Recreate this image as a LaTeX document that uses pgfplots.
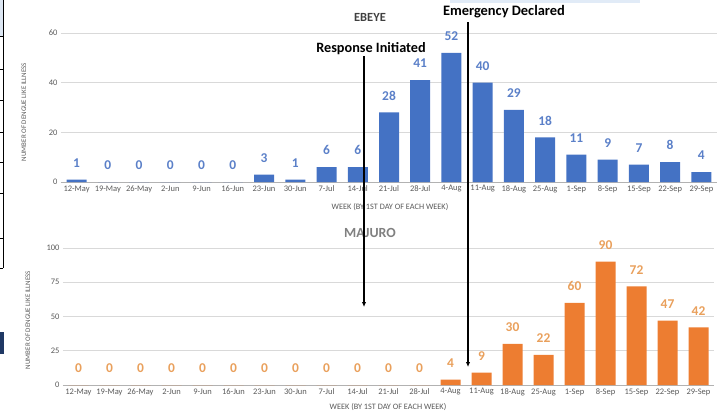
\documentclass[border=0pt]{standalone}
\usepackage{pgfplots}
\pgfplotsset{compat=1.18}
\usepackage{fontspec}
\setmainfont{Carlito}
\usetikzlibrary{arrows.meta}

\definecolor{barblue}{HTML}{4472C4}
\definecolor{lblblue}{HTML}{5B80C8}
\definecolor{barorange}{HTML}{ED7D31}
\definecolor{lblorange}{HTML}{E9A05C}
\definecolor{tickgray}{HTML}{595959}
\definecolor{gridgray}{HTML}{D9D9D9}

\pgfplotsset{
  weekchart/.style={
    ybar, bar width=20bp,
    scale only axis, anchor=south west,
    xmin=-0.5, xmax=20.5,
    xtick={0,...,20},
    xticklabels={12-May,19-May,26-May,2-Jun,9-Jun,16-Jun,23-Jun,30-Jun,7-Jul,14-Jul,21-Jul,28-Jul,4-Aug,11-Aug,18-Aug,25-Aug,1-Sep,8-Sep,15-Sep,22-Sep,29-Sep},
    ymin=0,
    axis x line*=bottom, axis y line*=left,
    y axis line style={draw=none},
    x axis line style={draw=gray!60, -},
    major tick length=0pt,
    ymajorgrids, grid style={gridgray, line width=0.8bp},
    tick label style={font=\fontsize{8.5}{8.5}\selectfont, text=tickgray},
    /pgf/number format/assume math mode=true,
    nodes near coords,
    every node near coord/.append style={font=\bfseries\fontsize{13.5}{13.5}\selectfont, inner sep=0pt, yshift=12bp},
  }
}

\begin{document}
\begin{tikzpicture}
\useasboundingbox (0,0) rectangle (725bp,-415bp);

% cropped table edge at the left
\fill[fill={rgb,255:red,220;green,230;blue,242}] (0,0) rectangle (3bp,-36bp);
\draw[line width=0.8bp] (3bp,0) -- (3bp,-268bp);
\foreach \yy in {36,69,100,132,162,193,238,268}
  \draw[line width=0.8bp] (0,-\yy bp) -- (3bp,-\yy bp);
\fill[fill={rgb,255:red,31;green,56;blue,100}] (0,-332bp) rectangle (4bp,-354bp);
\fill[fill={rgb,255:red,225;green,235;blue,247}] (450bp,0) rectangle (640bp,-3bp);

% EBEYE
\begin{axis}[weekchart,
  at={(61bp,-182bp)}, width=656bp, height=149bp,
  ymax=60, ytick={0,20,40,60},
  every node near coord/.append style={text=lblblue},
]
\addplot[fill=barblue, draw=none] coordinates {
  (0,1)(1,0)(2,0)(3,0)(4,0)(5,0)(6,3)(7,1)(8,6)(9,6)(10,28)
  (11,41)(12,52)(13,40)(14,29)(15,18)(16,11)(17,9)(18,7)(19,8)(20,4)};
\end{axis}

% MAJURO
\begin{axis}[weekchart,
  at={(63bp,-385bp)}, width=651bp, height=137bp,
  ymax=100, ytick={0,25,50,75,100},
  every node near coord/.append style={text=lblorange},
]
\addplot[fill=barorange, draw=none] coordinates {
  (0,0)(1,0)(2,0)(3,0)(4,0)(5,0)(6,0)(7,0)(8,0)(9,0)(10,0)
  (11,0)(12,4)(13,9)(14,30)(15,22)(16,60)(17,90)(18,72)(19,47)(20,42)};
\end{axis}

% titles and axis labels
\node[font=\bfseries\fontsize{12.5}{12.5}\selectfont, text={rgb,255:red,64;green,64;blue,64}] at (370bp,-17bp) {EBEYE};
\node[font=\bfseries\fontsize{14}{14}\selectfont, text=gray] at (370bp,-233bp) {MAJURO};
\node[font=\fontsize{8.3}{8.3}\selectfont, text=tickgray] at (390bp,-207bp) {WEEK (BY 1ST DAY OF EACH WEEK)};
\node[font=\fontsize{8.3}{8.3}\selectfont, text=tickgray] at (388bp,-407bp) {WEEK (BY 1ST DAY OF EACH WEEK)};
\node[font=\fontsize{7}{7}\selectfont, text=tickgray, rotate=90] at (24bp,-112bp) {NUMBER OF DENGUE LIKE ILLNESS};
\node[font=\fontsize{7}{7}\selectfont, text=tickgray, rotate=90] at (28bp,-320bp) {NUMBER OF DENGUE LIKE ILLNESS};

% annotations
\draw[line width=1.6bp, -{Latex[length=5bp,width=4.5bp]}] (468bp,-22bp) -- (468bp,-367bp);
\draw[line width=1.6bp, -{Latex[length=5bp,width=4.5bp]}] (364bp,-56bp) -- (364bp,-307bp);
\node[font=\bfseries\fontsize{14.5}{14.5}\selectfont] at (504bp,-12bp) {Emergency Declared};
\node[font=\bfseries\fontsize{14.3}{14.3}\selectfont] at (371bp,-49bp) {Response Initiated};
\end{tikzpicture}
\end{document}
